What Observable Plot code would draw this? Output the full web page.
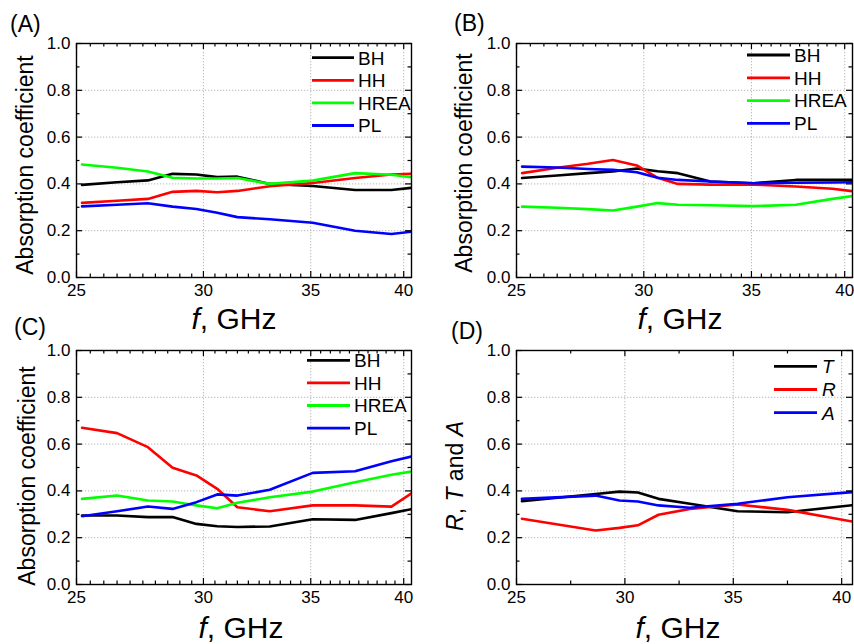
<!DOCTYPE html>
<html><head><meta charset="utf-8">
<script src="https://cdn.jsdelivr.net/npm/d3@7"></script>
<script src="https://cdn.jsdelivr.net/npm/@observablehq/plot@0.6"></script>
<style>
body{margin:0;background:#fff;}
#wrap{position:relative;width:854px;height:644px;overflow:hidden;font-family:"Liberation Sans",Arial,sans-serif;}
.panel{position:absolute;width:427px;height:322px;}
.panel svg{display:block;}
</style></head><body><div id="wrap"></div>
<script>
// ---- data ----
const freqABC = [25.2, 26.5, 27.7, 28.7, 29.7, 30.6, 31.5, 33.0, 35.1, 37.3, 39.3, 40.45];
const freqD = [25.25, 28.65, 29.75, 30.6, 31.55, 33.0, 35.2, 37.5, 40.5];
const seriesABC = ["BH", "HH", "HREA", "PL"];
const seriesD = ["T", "R", "A"];
const colorsABC = ["#000000", "#ff0000", "#00ff00", "#0000ff"];
const colorsD = ["#000000", "#ff0000", "#0000ff"];

const A_BH   = [0.396, 0.407, 0.415, 0.443, 0.440, 0.429, 0.431, 0.400, 0.391, 0.374, 0.374, 0.383];
const A_HH   = [0.319, 0.328, 0.336, 0.366, 0.370, 0.364, 0.370, 0.390, 0.404, 0.425, 0.440, 0.443];
const A_HREA = [0.483, 0.469, 0.453, 0.426, 0.423, 0.423, 0.425, 0.400, 0.414, 0.446, 0.439, 0.428];
const A_PL   = [0.304, 0.311, 0.317, 0.303, 0.293, 0.277, 0.258, 0.249, 0.234, 0.200, 0.186, 0.196];

const B_BH   = [0.425, 0.436, 0.446, 0.453, 0.466, 0.454, 0.446, 0.410, 0.403, 0.417, 0.417, 0.417];
const B_HH   = [0.446, 0.469, 0.486, 0.502, 0.479, 0.426, 0.400, 0.397, 0.397, 0.389, 0.379, 0.369];
const B_HREA = [0.303, 0.298, 0.292, 0.286, 0.303, 0.318, 0.311, 0.309, 0.305, 0.311, 0.336, 0.348];
const B_PL   = [0.474, 0.470, 0.464, 0.460, 0.450, 0.426, 0.417, 0.410, 0.403, 0.405, 0.406, 0.407];

const C_BH   = [0.295, 0.295, 0.288, 0.288, 0.259, 0.249, 0.246, 0.248, 0.279, 0.276, 0.305, 0.322];
const C_HH   = [0.670, 0.647, 0.587, 0.499, 0.466, 0.409, 0.330, 0.313, 0.338, 0.338, 0.333, 0.390];
const C_HREA = [0.366, 0.380, 0.359, 0.355, 0.338, 0.326, 0.349, 0.373, 0.397, 0.437, 0.469, 0.483];
const C_PL   = [0.292, 0.313, 0.333, 0.323, 0.352, 0.385, 0.380, 0.405, 0.477, 0.484, 0.527, 0.547];

const D_T = [0.356, 0.387, 0.397, 0.393, 0.366, 0.345, 0.313, 0.309, 0.339];
const D_R = [0.281, 0.231, 0.242, 0.253, 0.298, 0.323, 0.342, 0.319, 0.269];
const D_A = [0.366, 0.380, 0.359, 0.355, 0.338, 0.328, 0.345, 0.373, 0.395];

const xTickLabels = [25, 30, 35, 40];
const yTickLabels = [0, 0.2, 0.4, 0.6, 0.8, 1.0];
const yMinor = [0.1, 0.3, 0.5, 0.7, 0.9];
const xMinorLog = d3.range(25.5, 40.3, 0.5).filter(v => Math.abs(v % 5) > 1e-6);
const xMinorLin = [27.5, 32.5, 37.5];

const FONT = '"Liberation Sans", Arial, sans-serif';

function panel(o) {
  const rows = [];
  o.series.forEach((s, i) => o.values[i].forEach((v, j) => rows.push({f: o.freq[j], v, s})));
  const W = 427, H = 322;
  const fw = W - o.ml - o.mr, fh = H - o.mt - o.mb;
  const grid = {stroke: "#b8b8b8", strokeOpacity: 1, strokeDasharray: "1.3,1.7", strokeWidth: 1};
  const tk = {stroke: "#000", strokeWidth: 1.2};
  const chart = Plot.plot({
    width: W, height: H,
    marginLeft: o.ml, marginRight: o.mr, marginTop: o.mt, marginBottom: o.mb,
    style: {fontFamily: FONT, fontSize: "17px", color: "#000", background: "transparent", overflow: "visible"},
    x: {type: o.xType, domain: o.xDomain},
    y: {domain: [0, 1]},
    color: {domain: o.series, range: o.colors},
    marks: [
      Plot.gridX([30, 35, 40], grid),
      Plot.gridY([0.2, 0.4, 0.6, 0.8], grid),
      Plot.line(rows, {x: "f", y: "v", z: "s", stroke: "s", strokeWidth: 2.6, clip: true}),
      Plot.tickX(xTickLabels, {x: d => d, insetTop: fh - 6, ...tk}),
      Plot.tickX(xTickLabels, {x: d => d, insetBottom: fh - 6, ...tk}),
      Plot.tickX(o.xMinor, {x: d => d, insetTop: fh - 3.5, ...tk}),
      Plot.tickX(o.xMinor, {x: d => d, insetBottom: fh - 3.5, ...tk}),
      Plot.tickY(yTickLabels, {y: d => d, insetRight: fw - 6, ...tk}),
      Plot.tickY(yTickLabels, {y: d => d, insetLeft: fw - 6, ...tk}),
      Plot.tickY(yMinor, {y: d => d, insetRight: fw - 3.5, ...tk}),
      Plot.tickY(yMinor, {y: d => d, insetLeft: fw - 3.5, ...tk}),
      Plot.frame({stroke: "#000", strokeWidth: 1.4}),
      Plot.axisX(xTickLabels, {tickSize: 0, tickPadding: 6, fontSize: 17, label: null, tickFormat: d => String(d)}),
      Plot.axisY(yTickLabels, {tickSize: 0, tickPadding: 6, fontSize: 17, label: null, tickFormat: d => d.toFixed(1)})
    ]
  });
  const svg = d3.select(chart);
  // panel tag
  svg.append("text").attr("x", o.tag[1]).attr("y", o.tag[2]).attr("font-size", 23)
    .attr("text-anchor", "start").attr("fill", "#000").text(o.tag[0]);
  // y label
  const yl = svg.append("text").attr("transform", `translate(${o.yl[0]},${o.yl[1]}) rotate(-90)`)
    .attr("text-anchor", "middle").attr("font-size", 23).attr("fill", "#000");
  o.ylabel.forEach(([t, it]) => yl.append("tspan").attr("font-style", it ? "italic" : "normal").text(t));
  // x label
  const xl = svg.append("text").attr("x", o.xl[0]).attr("y", o.xl[1])
    .attr("text-anchor", "middle").attr("font-size", 30).attr("fill", "#000");
  xl.append("tspan").attr("font-style", "italic").text("f");
  xl.append("tspan").text(", GHz");
  // legend
  const lg = svg.append("g").attr("text-anchor", "start");
  o.series.forEach((s, i) => {
    const y = o.lg.y0 + i * o.lg.dy;
    lg.append("line").attr("x1", o.lg.x1).attr("x2", o.lg.x2).attr("y1", y).attr("y2", y)
      .attr("stroke", o.colors[i]).attr("stroke-width", 2.8);
    lg.append("text").attr("x", o.lg.tx).attr("y", y).attr("dy", "0.36em").attr("font-size", 19)
      .attr("text-anchor", "start")
      .attr("font-style", o.lgItalic ? "italic" : "normal").attr("fill", "#000").text(s);
  });
  const div = document.createElement("div");
  div.className = "panel";
  div.style.left = o.left + "px";
  div.style.top = o.top + "px";
  div.appendChild(chart);
  document.getElementById("wrap").appendChild(div);
}

panel({left: 0, top: 0, freq: freqABC, series: seriesABC, colors: colorsABC,
  values: [A_BH, A_HH, A_HREA, A_PL], xType: "log", xDomain: [25, 40.45], xMinor: xMinorLog,
  ml: 76, mr: 16, mt: 43, mb: 45,
  tag: ["(A)", 10, 32], yl: [33, 165], ylabel: [["Absorption coefficient", false]], xl: [234, 329],
  lg: {x1: 312, x2: 354, tx: 358, y0: 57.7, dy: 22.6}});

panel({left: 427, top: 0, freq: freqABC, series: seriesABC, colors: colorsABC,
  values: [B_BH, B_HH, B_HREA, B_PL], xType: "log", xDomain: [25, 40.45], xMinor: xMinorLog,
  ml: 89, mr: 2, mt: 43, mb: 45,
  tag: ["(B)", 27, 31], yl: [45, 163], ylabel: [["Absorption coefficient", false]], xl: [253, 329],
  lg: {x1: 320, x2: 363, tx: 367, y0: 55, dy: 22.8}});

panel({left: 0, top: 322, freq: freqABC, series: seriesABC, colors: colorsABC,
  values: [C_BH, C_HH, C_HREA, C_PL], xType: "log", xDomain: [25, 40.45], xMinor: xMinorLog,
  ml: 76, mr: 16, mt: 28, mb: 60,
  tag: ["(C)", 14, 13], yl: [35, 154], ylabel: [["Absorption coefficient", false]], xl: [241, 316],
  lg: {x1: 307, x2: 350, tx: 354, y0: 38.3, dy: 22.6}});

panel({left: 427, top: 322, freq: freqD, series: seriesD, colors: colorsD,
  values: [D_T, D_R, D_A], xType: "linear", xDomain: [25, 40.5], xMinor: xMinorLin,
  ml: 89, mr: 2, mt: 28, mb: 60,
  tag: ["(D)", 24, 17], yl: [36, 154],
  ylabel: [["R", true], [", ", false], ["T", true], [" and ", false], ["A", true]], xl: [251, 316],
  lg: {x1: 347, x2: 390, tx: 395, y0: 44.3, dy: 23.2}, lgItalic: true});
</script>
</body></html>
